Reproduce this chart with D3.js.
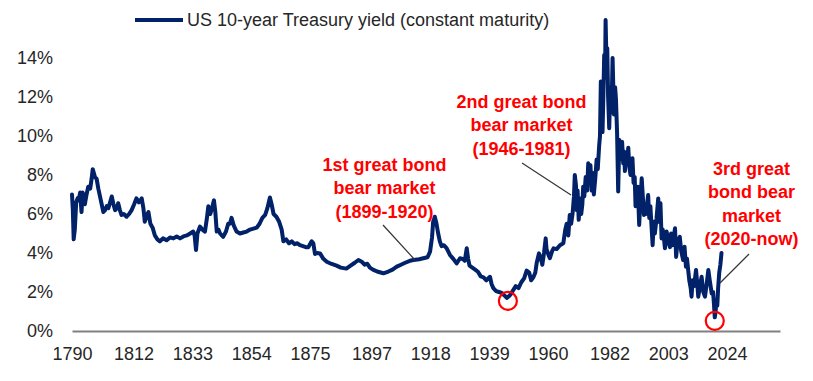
<!DOCTYPE html>
<html><head><meta charset="utf-8">
<script src="https://cdn.jsdelivr.net/npm/d3@7"></script>
<style>
body{margin:0;background:#fff}
svg{display:block}
text{font-family:"Liberation Sans",Arial,sans-serif}
</style>
</head><body>
<svg id="chart" width="813" height="381"></svg>
<script>
// ---- data ----
const seriesName = "US 10-year Treasury yield (constant maturity)";
const years = [
1790.0,1790.3,1790.6,1791.0,1791.5,1792.0,1792.4,1792.9,1793.4,1793.8,1794.3,1794.6,1795.2,1795.8,1796.5,1797.0,1797.4,1797.8,1798.2,1798.8,1799.4,
1800.0,1800.6,1801.2,1801.8,1802.4,1803.0,1803.6,1804.2,1804.8,1805.4,1806.0,1806.5,1807.1,1807.7,1808.5,1809.5,1810.4,1811.3,1812.2,1813.0,1813.9,1814.9,1815.5,1816.0,1816.6,1817.3,1818.0,1818.8,1819.6,
1820.5,1821.4,1822.5,1823.8,1825.0,1826.2,1827.4,1828.6,1829.8,1831.0,1832.2,1833.3,1833.8,1834.3,1834.8,1835.7,1836.6,1837.5,1838.2,1838.7,1839.4,1840.0,1840.7,1841.2,1841.7,1842.3,1842.9,1844.0,1845.0,1845.8,1846.4,1847.0,1847.8,1848.8,
1850.0,1851.2,1852.4,1853.6,1854.8,1856.0,1857.0,1858.0,1859.0,1859.8,1860.7,1861.3,1862.0,1863.0,1864.0,1864.9,1865.5,1866.5,1867.5,1868.5,1869.5,1870.5,1871.4,1872.5,1873.5,1874.4,1875.6,1876.2,1876.8,1877.6,1878.6,1879.8,
1881.0,1882.5,1884.5,1886.0,1888.0,1889.5,1891.0,1892.3,1893.5,1894.6,1895.5,1896.4,1897.5,1899.0,1901.2,1903.0,1904.5,1906.0,1907.5,1909.0,1910.7,1912.0,1914.0,1915.5,1917.0,1917.9,1918.6,1919.0,1919.6,
1920.2,1920.8,1921.4,1922.0,1922.8,1923.8,1925.0,1926.2,1927.4,1928.6,1929.5,1930.3,1931.0,1931.5,1932.0,1933.0,1934.0,1935.0,1936.0,1937.0,1938.0,1939.3,1939.9,1940.5,1941.5,1942.5,1943.5,1944.6,1945.3,1946.2,1946.8,1947.6,1948.5,1949.5,
1950.5,1951.5,1952.4,1953.3,1954.0,1954.8,1955.5,1956.0,1956.8,1957.5,1958.0,1958.6,1959.2,1959.5,1960.2,1960.7,1961.5,1962.0,1963.1,1964.3,1965.5,1966.2,1966.7,1967.3,1967.8,1968.3,1968.8,1969.3,1969.6,
1970.0,1970.3,1970.6,1971.0,1971.5,1971.9,1972.3,1972.6,1973.0,1973.5,1974.0,1974.4,1974.8,1975.2,1975.6,1976.0,1976.4,1976.9,1977.4,1977.8,1978.3,1978.6,1978.9,1979.2,1979.5,1979.8,
1980.1,1980.4,1980.6,1980.9,1981.2,1981.5,1981.9,1982.3,1982.7,1983.1,1983.6,1984.0,1984.3,1984.7,1985.1,1985.5,1985.9,1986.2,1986.5,1986.9,1987.2,1987.5,1987.9,1988.3,1988.7,1989.1,1989.5,1989.9,
1990.2,1990.6,1991.0,1991.3,1991.7,1992.1,1992.6,1993.0,1993.5,1993.9,1994.3,1994.7,1995.0,1995.4,1995.8,1996.2,1996.6,1997.0,1997.4,1997.8,1998.2,1998.8,1999.4,1999.8,
2000.2,2000.6,2001.0,2001.4,2001.8,2002.4,2003.0,2003.6,2004.0,2004.5,2005.0,2005.4,2005.8,2006.3,2007.1,2007.6,2008.3,2008.8,2009.3,2009.7,
2010.1,2010.5,2011.0,2011.3,2011.7,2012.2,2012.9,2013.3,2013.7,2014.3,2014.9,2015.5,2016.1,2016.7,2017.3,2017.8,2018.5,2019.0,2019.3,2019.6,2019.9,
2020.2,2020.5,2020.8,2021.2,2021.6,2022.0
];
const yields = [
7.0,6.2,4.7,5.2,6.6,6.8,6.7,7.1,6.1,7.1,6.8,6.5,7.0,7.4,7.3,7.8,8.3,8.1,7.9,7.8,7.3,
6.9,6.5,6.1,6.2,6.4,6.3,6.6,6.9,6.5,6.2,6.3,6.55,6.2,5.95,6.0,5.86,6.0,6.2,6.5,6.8,6.6,6.8,6.3,5.6,5.9,6.1,5.5,5.3,4.9,
4.7,4.6,4.75,4.65,4.8,4.75,4.85,4.75,4.85,4.9,5.0,5.1,4.9,4.15,5.0,5.35,5.2,5.1,5.8,6.4,6.0,6.3,6.7,6.1,5.1,5.2,5.0,4.83,5.1,5.5,5.5,5.8,5.4,5.1,
5.0,5.05,5.1,5.2,5.25,5.3,5.5,5.8,5.95,6.3,6.85,6.5,6.0,5.86,5.6,5.2,4.6,4.7,4.5,4.6,4.45,4.5,4.4,4.35,4.3,4.3,4.6,4.5,3.95,4.0,3.98,3.7,
3.55,3.45,3.35,3.25,3.2,3.35,3.5,3.64,3.55,3.4,3.45,3.25,3.15,3.05,2.96,3.05,3.15,3.3,3.4,3.5,3.6,3.64,3.68,3.73,3.78,4.07,4.8,5.6,5.86,
5.5,5.0,4.6,4.35,4.4,4.25,3.9,3.7,3.47,3.73,3.7,3.6,4.24,3.7,3.35,3.25,3.15,3.04,2.8,2.75,2.6,2.78,2.4,2.2,2.05,2.0,1.95,1.8,1.7,1.8,1.9,2.1,2.3,2.2,
2.5,2.7,3.1,3.0,2.6,2.75,3.0,3.5,3.98,3.7,3.4,4.0,4.75,4.2,3.9,3.73,4.1,4.24,4.2,4.4,4.5,5.2,5.5,4.9,5.95,5.5,6.0,6.9,8.0,
7.5,6.2,7.2,5.7,6.8,6.0,6.5,7.4,6.9,7.9,7.2,8.6,7.6,8.5,7.2,8.1,7.0,7.8,8.8,8.3,9.5,10.0,12.8,11.5,10.2,12.0,
14.15,13.0,15.95,14.0,14.5,12.0,10.4,12.5,11.2,14.0,11.1,12.5,11.9,10.2,7.15,9.8,8.8,9.5,9.7,8.6,9.2,8.2,9.0,8.7,9.4,8.4,8.0,8.5,
8.86,7.6,7.9,6.4,6.6,7.4,5.44,6.6,7.83,6.9,5.95,6.3,6.0,6.5,6.97,5.8,6.4,5.4,4.4,5.6,5.0,5.78,6.8,5.6,
6.55,4.75,5.2,4.8,4.24,5.1,4.6,4.3,5.0,4.4,4.9,5.27,3.8,4.6,4.83,4.1,3.64,4.32,3.3,3.7,
3.13,2.6,2.2,1.76,2.6,2.3,3.13,2.5,1.76,2.3,2.78,2.0,1.76,2.4,3.13,2.6,1.93,2.0,1.4,0.7,1.0,
1.6,1.3,2.2,3.0,3.4,4.0
];
const xTickYears = [1790,1812,1833,1854,1875,1897,1918,1939,1960,1982,2003,2024];
const yTickValues = [0,2,4,6,8,10,12,14];
const annotationTexts = [
  ["1st great bond","bear market","(1899-1920)"],
  ["2nd great bond","bear market","(1946-1981)"],
  ["3rd great","bond bear","market","(2020-now)"]
];
const lowMarks = [[1945.7,1.54],[2019.6,0.52]];

// ---- drawing ----
const svg = d3.select("#chart");
const navy = "#012169", red = "#ff0000", txt = "#262626";

const x = d3.scaleLinear().domain([1790, 2042.9]).range([72, 780]);
const y = d3.scaleLinear().domain([0, 14]).range([331, 58]);

// x axis
const gx = svg.append("g").attr("transform","translate(0,331)")
  .call(d3.axisBottom(x).tickValues(xTickYears).tickFormat(d3.format("d")).tickSize(0).tickPadding(16.7));
gx.select(".domain").attr("stroke","#808080").attr("stroke-width",2);
gx.selectAll("text").attr("fill",txt).style("font-size","18px");

// y axis
const gy = svg.append("g").attr("transform","translate(72,0)")
  .call(d3.axisLeft(y).tickValues(yTickValues).tickFormat(d => d + "%").tickSize(0).tickPadding(19));
gy.select(".domain").remove();
gy.selectAll("text").attr("fill",txt).style("font-size","18px");

// line
const pts = years.map((yr,i) => [yr, yields[i]]);
svg.append("path").datum(pts)
  .attr("fill","none").attr("stroke",navy).attr("stroke-width",4)
  .attr("stroke-linejoin","round").attr("stroke-linecap","round")
  .attr("d", d3.line().x(d => x(d[0])).y(d => y(d[1])));

// legend
svg.append("line").attr("x1",135).attr("x2",183).attr("y1",20).attr("y2",20)
  .attr("stroke",navy).attr("stroke-width",3.8);
svg.append("text").attr("x",187).attr("y",25.5).attr("fill",txt)
  .style("font-size","18px").text(seriesName);

// leader lines
const leaders = [[383,225,415,260],[522,163,571,195],[749,254,720,283]];
leaders.forEach(l => svg.append("line").attr("x1",l[0]).attr("y1",l[1]).attr("x2",l[2]).attr("y2",l[3])
  .attr("stroke","#333").attr("stroke-width",1.2));

// annotation texts
const annPos = [[384.5,171],[521.5,108],[751.5,175]];
annotationTexts.forEach((lines,k) => {
  const t = svg.append("text").attr("text-anchor","middle").attr("fill",red)
    .style("font-size","18px").style("font-weight","bold");
  lines.forEach((s,i) => t.append("tspan").attr("x",annPos[k][0]).attr("y",annPos[k][1] + i*23.3).text(s));
});

// circles at lows
svg.selectAll("circle.low").data(lowMarks).enter().append("circle")
  .attr("class","low").attr("cx",d => x(d[0])).attr("cy",d => y(d[1])).attr("r",9)
  .attr("fill","none").attr("stroke",red).attr("stroke-width",2.2);
</script>
</body></html>
